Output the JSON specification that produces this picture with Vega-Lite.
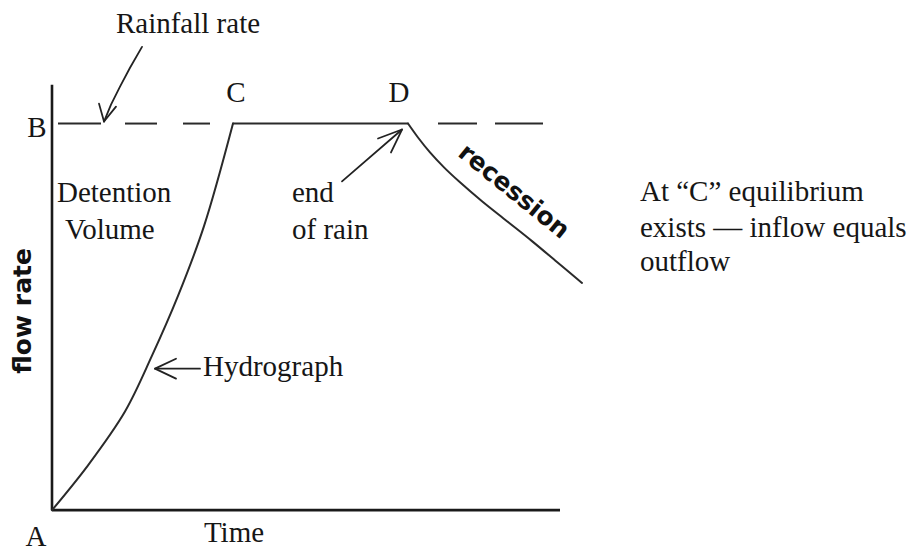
{
  "$schema": "https://vega.github.io/schema/vega-lite/v6.json",
  "width": 920,
  "height": 552,
  "autosize": {"type": "fit", "contains": "padding"},
  "padding": 0,
  "background": "white",
  "config": {"view": {"stroke": null}},
  "datasets": {
    "axes": [
      {"t": 0, "q": 0, "t2": 0, "q2": 427},
      {"t": 0, "q": 0, "t2": 508, "q2": 0}
    ],
    "dashes": [
      {"t": 6, "q": 388, "t2": 49, "q2": 388},
      {"t": 73, "q": 388, "t2": 105, "q2": 388},
      {"t": 131, "q": 388, "t2": 158, "q2": 388},
      {"t": 386, "q": 388, "t2": 425, "q2": 388},
      {"t": 443, "q": 388, "t2": 491, "q2": 388}
    ],
    "curve": [
      {"seg": "rise", "o": 1, "t": 0, "q": 0},
      {"seg": "rise", "o": 2, "t": 36, "q": 45},
      {"seg": "rise", "o": 3, "t": 73, "q": 99},
      {"seg": "rise", "o": 4, "t": 100, "q": 155},
      {"seg": "rise", "o": 5, "t": 126, "q": 215},
      {"seg": "rise", "o": 6, "t": 152, "q": 285},
      {"seg": "rise", "o": 7, "t": 181, "q": 388},
      {"seg": "flat", "o": 1, "t": 181, "q": 388},
      {"seg": "flat", "o": 2, "t": 356, "q": 388},
      {"seg": "fall", "o": 1, "t": 356, "q": 388},
      {"seg": "fall", "o": 2, "t": 366, "q": 374},
      {"seg": "fall", "o": 3, "t": 378, "q": 359},
      {"seg": "fall", "o": 4, "t": 392, "q": 344},
      {"seg": "fall", "o": 5, "t": 408, "q": 329},
      {"seg": "fall", "o": 6, "t": 430, "q": 310},
      {"seg": "fall", "o": 7, "t": 455, "q": 290},
      {"seg": "fall", "o": 8, "t": 480, "q": 270},
      {"seg": "fall", "o": 9, "t": 505, "q": 249},
      {"seg": "fall", "o": 10, "t": 530, "q": 228}
    ],
    "arrows": [
      {"id": "rain", "o": 1, "t": 90, "q": 465},
      {"id": "rain", "o": 2, "t": 78, "q": 444},
      {"id": "rain", "o": 3, "t": 68, "q": 425},
      {"id": "rain", "o": 4, "t": 59, "q": 407},
      {"id": "rain", "o": 5, "t": 52, "q": 390},
      {"id": "rainhead", "o": 1, "t": 47, "q": 408},
      {"id": "rainhead", "o": 2, "t": 52, "q": 390},
      {"id": "rainhead", "o": 3, "t": 64, "q": 405},
      {"id": "end", "o": 1, "t": 290, "q": 330},
      {"id": "end", "o": 2, "t": 350, "q": 382},
      {"id": "endhead", "o": 1, "t": 326, "q": 373},
      {"id": "endhead", "o": 2, "t": 350, "q": 382},
      {"id": "endhead", "o": 3, "t": 339, "q": 359},
      {"id": "hyd", "o": 1, "t": 148, "q": 142},
      {"id": "hyd", "o": 2, "t": 103, "q": 142},
      {"id": "hydhead", "o": 1, "t": 124, "q": 152},
      {"id": "hydhead", "o": 2, "t": 103, "q": 142},
      {"id": "hydhead", "o": 3, "t": 124, "q": 132}
    ],
    "centerLabels": [
      {"t": 136, "q": 479, "label": "Rainfall rate"},
      {"t": -15, "q": 375, "label": "B"},
      {"t": 184, "q": 410, "label": "C"},
      {"t": 347, "q": 410, "label": "D"},
      {"t": -16, "q": -36, "label": "A"},
      {"t": 182, "q": -32, "label": "Time"}
    ],
    "leftLabels": [
      {"t": 5, "q": 309, "label": "Detention"},
      {"t": 13, "q": 272, "label": "Volume"},
      {"t": 240, "q": 309, "label": "end"},
      {"t": 240, "q": 272, "label": "of rain"},
      {"t": 151, "q": 135, "label": "Hydrograph"},
      {"t": 588, "q": 310, "label": "At “C” equilibrium"},
      {"t": 588, "q": 274, "label": "exists — inflow equals"},
      {"t": 588, "q": 240, "label": "outflow"}
    ],
    "vertLabels": [
      {"t": -29, "q": 200, "label": "flow rate"}
    ],
    "slantLabels": [
      {"t": 462, "q": 320, "label": "recession"}
    ]
  },
  "layer": [
    {
      "data": {"name": "axes"},
      "mark": {"type": "rule", "color": "#1a1a1a", "strokeWidth": 2.6},
      "encoding": {
        "x": {"field": "t", "type": "quantitative", "scale": {"domain": [-52, 868], "nice": false, "zero": false}, "axis": null},
        "y": {"field": "q", "type": "quantitative", "scale": {"domain": [-40, 512], "nice": false, "zero": false}, "axis": null},
        "x2": {"field": "t2"},
        "y2": {"field": "q2"}
      }
    },
    {
      "data": {"name": "dashes"},
      "mark": {"type": "rule", "color": "#2a2a2a", "strokeWidth": 2},
      "encoding": {
        "x": {"field": "t", "type": "quantitative"},
        "y": {"field": "q", "type": "quantitative"},
        "x2": {"field": "t2"},
        "y2": {"field": "q2"}
      }
    },
    {
      "data": {"name": "curve"},
      "mark": {"type": "line", "color": "#2a2a2a", "strokeWidth": 2, "interpolate": "catmull-rom", "strokeCap": "round", "strokeJoin": "round"},
      "encoding": {
        "x": {"field": "t", "type": "quantitative"},
        "y": {"field": "q", "type": "quantitative"},
        "detail": {"field": "seg", "type": "nominal"},
        "order": {"field": "o", "type": "quantitative"}
      }
    },
    {
      "data": {"name": "arrows"},
      "mark": {"type": "line", "color": "#222222", "strokeWidth": 1.8, "strokeCap": "round", "strokeJoin": "round"},
      "encoding": {
        "x": {"field": "t", "type": "quantitative"},
        "y": {"field": "q", "type": "quantitative"},
        "detail": {"field": "id", "type": "nominal"},
        "order": {"field": "o", "type": "quantitative"}
      }
    },
    {
      "data": {"name": "centerLabels"},
      "mark": {"type": "text", "font": "Liberation Serif", "fontSize": 29, "color": "#161616", "align": "center", "baseline": "alphabetic"},
      "encoding": {
        "x": {"field": "t", "type": "quantitative"},
        "y": {"field": "q", "type": "quantitative"},
        "text": {"field": "label"}
      }
    },
    {
      "data": {"name": "leftLabels"},
      "mark": {"type": "text", "font": "Liberation Serif", "fontSize": 29, "color": "#161616", "align": "left", "baseline": "alphabetic"},
      "encoding": {
        "x": {"field": "t", "type": "quantitative"},
        "y": {"field": "q", "type": "quantitative"},
        "text": {"field": "label"}
      }
    },
    {
      "data": {"name": "vertLabels"},
      "mark": {"type": "text", "font": "DejaVu Sans", "fontWeight": "bold", "fontSize": 25, "color": "#111111", "align": "center", "baseline": "middle", "angle": 270},
      "encoding": {
        "x": {"field": "t", "type": "quantitative"},
        "y": {"field": "q", "type": "quantitative"},
        "text": {"field": "label"}
      }
    },
    {
      "data": {"name": "slantLabels"},
      "mark": {"type": "text", "font": "DejaVu Sans", "fontWeight": "bold", "fontSize": 25, "color": "#111111", "align": "center", "baseline": "middle", "angle": 39},
      "encoding": {
        "x": {"field": "t", "type": "quantitative"},
        "y": {"field": "q", "type": "quantitative"},
        "text": {"field": "label"}
      }
    }
  ]
}
